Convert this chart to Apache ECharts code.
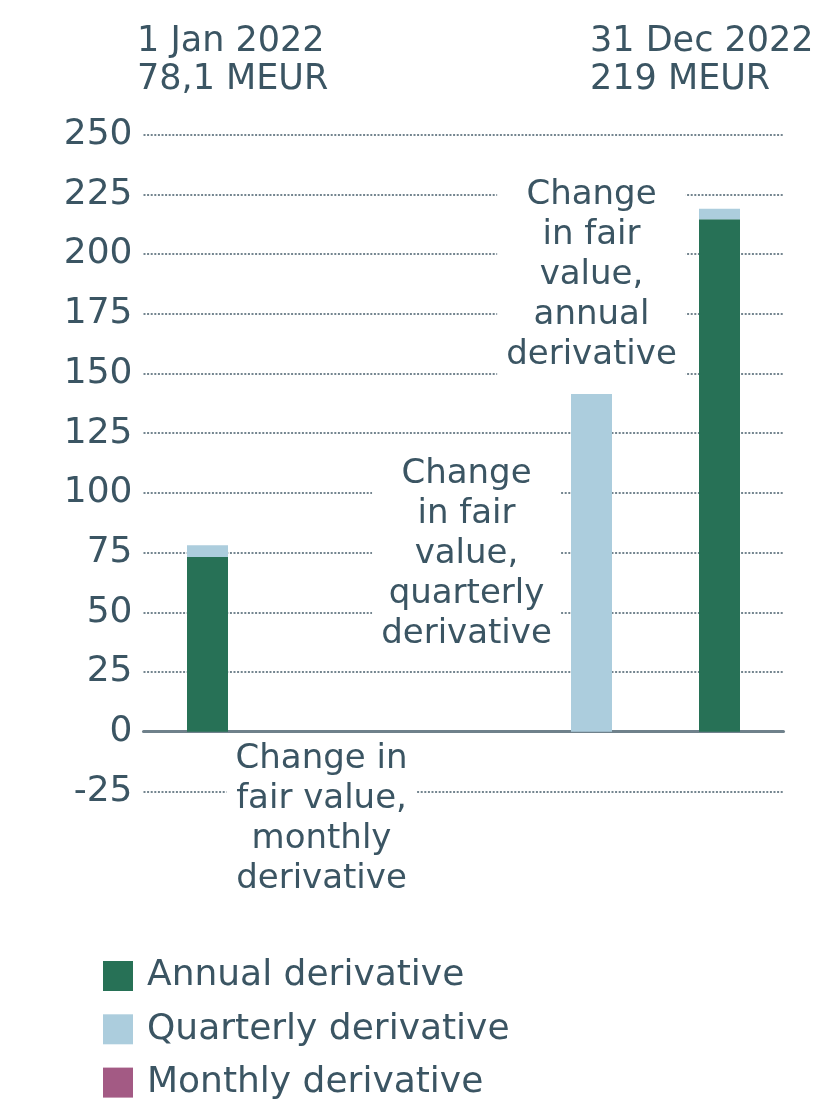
<!DOCTYPE html>
<html>
<head>
<meta charset="utf-8">
<script src="https://cdn.jsdelivr.net/npm/echarts@6/dist/echarts.min.js"></script>
<style>
  html, body { margin: 0; padding: 0; background: #ffffff; }
  #chart { width: 820px; height: 1100px; }
</style>
</head>
<body>
<div id="chart"></div>
<script>
// Derivative fair value bridge, MEUR
const categories = ['1 Jan 2022', 'Monthly change', 'Quarterly change', 'Annual change', '31 Dec 2022'];
const annualValues = [73.2, 0, 0, 0, 214.6];
const quarterlyValues = [4.9, 0, 0, 141.4, 4.4];
const monthlyValues = [0, 0, 0, 0, 0];
const yTicks = { min: -25, max: 250, interval: 25 };

// Annotation labels: [category, anchor y value, text]
const monthlyNote = ['Monthly change', -25, 'Change in\nfair value,\nmonthly\nderivative'];
const quarterlyNote = ['Quarterly change', 74.4, 'Change\nin fair\nvalue,\nquarterly\nderivative'];
const annualNote = ['Annual change', 191.3, 'Change\nin fair\nvalue,\nannual\nderivative'];

const TEXT = '#3b5563';
const FONT = '"DejaVu Sans", sans-serif';

function total(i) {
  return Math.round((annualValues[i] + quarterlyValues[i] + monthlyValues[i]) * 10) / 10;
}
function fmt(v) {
  return String(v).replace('.', ',') + ' MEUR';
}

function note(n, offset) {
  return {
    symbol: 'rect',
    symbolSize: 1,
    silent: true,
    itemStyle: { color: 'rgba(0,0,0,0)' },
    label: {
      show: true,
      position: 'inside',
      offset: offset || [0, 0],
      formatter: n[2],
      fontFamily: FONT,
      fontSize: 34,
      lineHeight: 40,
      color: TEXT,
      align: 'center',
      backgroundColor: '#ffffff',
      padding: [2, 9]
    },
    data: [{ coord: [n[0], n[1]] }]
  };
}

const chart = echarts.init(document.getElementById('chart'), null, { renderer: 'canvas' });

chart.setOption({
  animation: false,
  backgroundColor: '#ffffff',
  grid: { left: 143.5, right: 36.5, top: 134.7, bottom: 308.6, containLabel: false },
  graphic: [
    {
      type: 'text', left: 137, top: 23,
      style: {
        text: categories[0] + '\n' + fmt(total(0)),
        font: '35px ' + FONT, lineHeight: 38, fill: TEXT
      }
    },
    {
      type: 'text', left: 590, top: 23,
      style: {
        text: categories[4] + '\n' + fmt(total(4)),
        font: '35px ' + FONT, lineHeight: 38, fill: TEXT
      }
    }
  ],
  legend: {
    orient: 'vertical',
    left: 103,
    top: 958,
    height: 300,
    padding: 0,
    itemWidth: 30,
    itemHeight: 30,
    itemGap: 17.3,
    icon: 'rect',
    selectedMode: false,
    data: ['Annual derivative', 'Quarterly derivative', 'Monthly derivative'],
    textStyle: {
      fontFamily: FONT,
      fontSize: 36,
      color: TEXT,
      padding: [0, 0, 0, 9]
    }
  },
  xAxis: {
    type: 'category',
    data: categories,
    axisTick: { show: false },
    axisLabel: { show: false },
    splitLine: { show: false },
    axisLine: { show: true, onZero: true, lineStyle: { color: '#6f818b', width: 3 } }
  },
  yAxis: {
    type: 'value',
    min: yTicks.min,
    max: yTicks.max,
    interval: yTicks.interval,
    axisLine: { show: false },
    axisTick: { show: false },
    axisLabel: {
      margin: 11,
      fontFamily: FONT,
      fontSize: 36,
      color: TEXT
    },
    splitLine: {
      show: true,
      lineStyle: { color: '#74858f', width: 2, type: [2, 1.6] }
    }
  },
  series: [
    {
      name: 'Annual derivative',
      type: 'bar',
      stack: 'total',
      barWidth: 41,
      itemStyle: { color: '#277156' },
      data: annualValues,
      markPoint: note(annualNote)
    },
    {
      name: 'Quarterly derivative',
      type: 'bar',
      stack: 'total',
      barWidth: 41,
      itemStyle: { color: '#accddd' },
      data: quarterlyValues,
      markPoint: note(quarterlyNote, [3, 0])
    },
    {
      name: 'Monthly derivative',
      type: 'bar',
      stack: 'total',
      barWidth: 41,
      itemStyle: { color: '#a35a84' },
      data: monthlyValues,
      markPoint: note(monthlyNote, [-14, 28])
    }
  ]
});
</script>
</body>
</html>
